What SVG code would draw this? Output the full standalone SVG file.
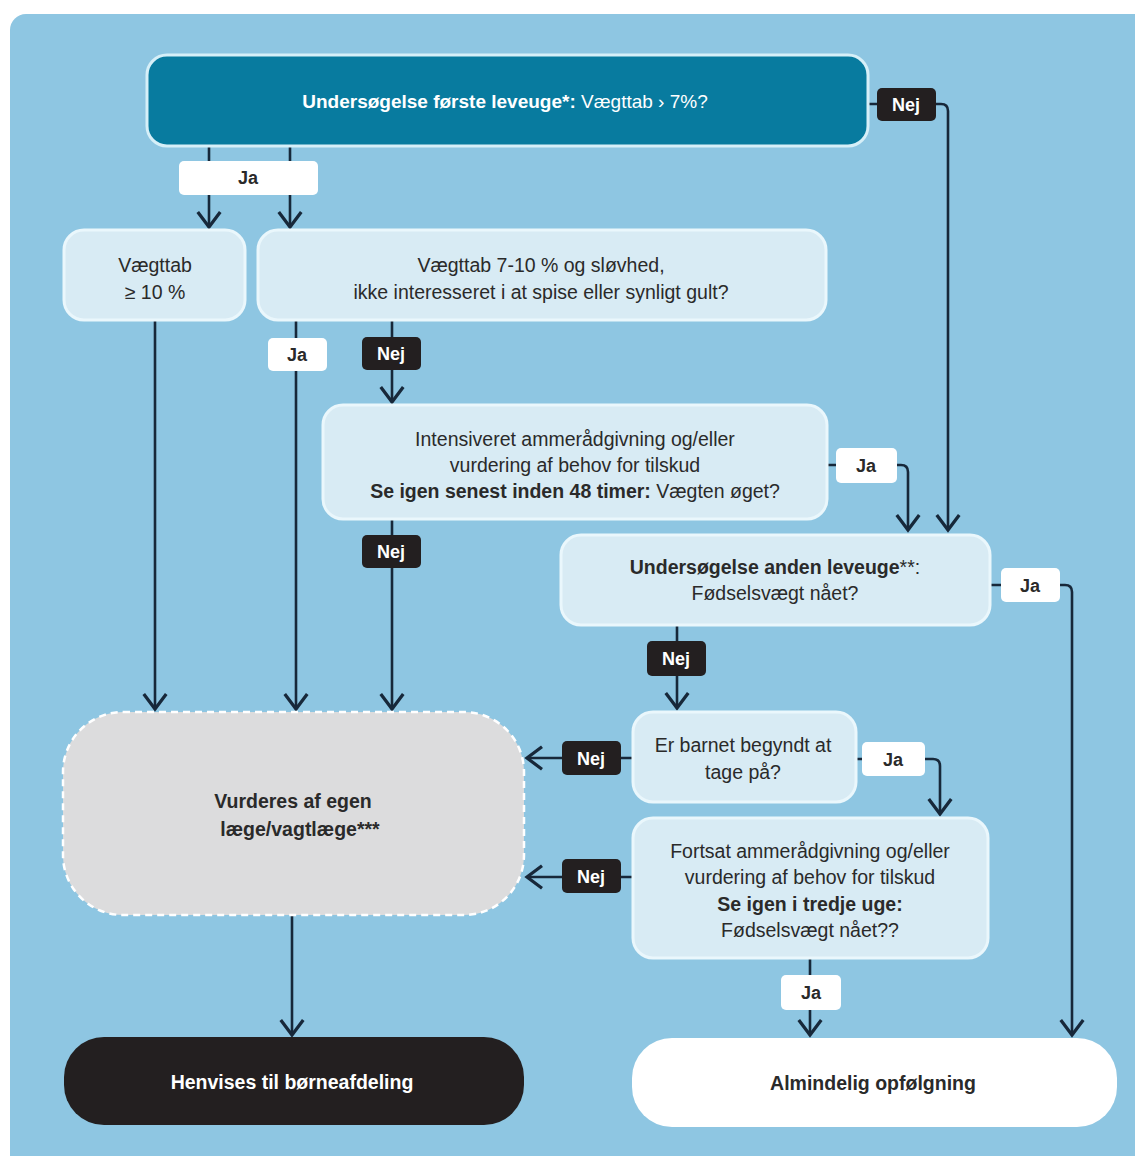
<svg xmlns="http://www.w3.org/2000/svg" width="1135" height="1156" viewBox="0 0 1135 1156">
<style>
text{font-family:"Liberation Sans","Open Sans",sans-serif;font-size:19.5px;fill:#2a2a2a;text-anchor:middle}
.b{font-weight:bold}
.w{fill:#ffffff}
.node{fill:#d8ebf4;stroke:#eaf7fc;stroke-width:3}
.conn{fill:none;stroke:#17283a;stroke-width:2.6}
.lj{fill:#ffffff}
.ln{fill:#231f20}
.lt{font-weight:bold;font-size:18px}
</style>
<defs>
<marker id="ah" markerUnits="userSpaceOnUse" markerWidth="30" markerHeight="30" refX="0" refY="0" viewBox="-14 -12 16 24" orient="auto" overflow="visible">
<path d="M-12,-9 L0,0 L-12,9" fill="none" stroke="#17283a" stroke-width="2.6"/>
</marker>
</defs>
<rect width="1135" height="1156" fill="#ffffff"/>
<rect x="10" y="14" width="1145" height="1160" rx="16" fill="#8ec6e2"/>

<g id="connectors">
<path class="conn" d="M209,146 V227" marker-end="url(#ah)"/>
<path class="conn" d="M290,146 V227" marker-end="url(#ah)"/>
<path class="conn" d="M868,104 H941 Q948,104 948,111 V530" marker-end="url(#ah)"/>
<path class="conn" d="M155,320 V709" marker-end="url(#ah)"/>
<path class="conn" d="M296,320 V709" marker-end="url(#ah)"/>
<path class="conn" d="M392,320 V402" marker-end="url(#ah)"/>
<path class="conn" d="M392,519 V709" marker-end="url(#ah)"/>
<path class="conn" d="M827,465 H901 Q908,465 908,472 V530" marker-end="url(#ah)"/>
<path class="conn" d="M990,585 H1065 Q1072,585 1072,592 V1035" marker-end="url(#ah)"/>
<path class="conn" d="M677,625 V708" marker-end="url(#ah)"/>
<path class="conn" d="M633,758 H527" marker-end="url(#ah)"/>
<path class="conn" d="M856,759 H933 Q940,759 940,766 V814" marker-end="url(#ah)"/>
<path class="conn" d="M633,877 H527" marker-end="url(#ah)"/>
<path class="conn" d="M810,958 V1035" marker-end="url(#ah)"/>
<path class="conn" d="M292,915 V1035" marker-end="url(#ah)"/>
</g>

<g id="labels">
<g id="lbl-top-nej"><rect class="ln" x="877" y="88" width="59" height="33" rx="5"/><text class="lt w" x="906" y="111">Nej</text></g>
<g id="lbl-top-ja"><rect class="lj" x="179" y="161" width="139" height="34" rx="5"/><text class="lt" x="248" y="184">Ja</text></g>
<g id="lbl-b-ja"><rect class="lj" x="268" y="338" width="59" height="33" rx="5"/><text class="lt" x="297" y="361">Ja</text></g>
<g id="lbl-b-nej"><rect class="ln" x="362" y="337" width="59" height="33" rx="5"/><text class="lt w" x="391" y="360">Nej</text></g>
<g id="lbl-c-ja"><rect class="lj" x="836" y="448" width="61" height="35" rx="5"/><text class="lt" x="866" y="472">Ja</text></g>
<g id="lbl-c-nej"><rect class="ln" x="362" y="535" width="59" height="33" rx="5"/><text class="lt w" x="391" y="558">Nej</text></g>
<g id="lbl-d-ja"><rect class="lj" x="1001" y="568" width="59" height="34" rx="5"/><text class="lt" x="1030" y="592">Ja</text></g>
<g id="lbl-d-nej"><rect class="ln" x="647" y="641" width="59" height="35" rx="5"/><text class="lt w" x="676" y="665">Nej</text></g>
<g id="lbl-e-nej"><rect class="ln" x="562" y="741" width="59" height="34" rx="5"/><text class="lt w" x="591" y="765">Nej</text></g>
<g id="lbl-e-ja"><rect class="lj" x="862" y="742" width="63" height="34" rx="5"/><text class="lt" x="893" y="766">Ja</text></g>
<g id="lbl-f-nej"><rect class="ln" x="562" y="859" width="59" height="34" rx="5"/><text class="lt w" x="591" y="883">Nej</text></g>
<g id="lbl-f-ja"><rect class="lj" x="781" y="975" width="60" height="35" rx="5"/><text class="lt" x="811" y="999">Ja</text></g>
</g>

<g id="node-top">
<rect x="147" y="55" width="721" height="91" rx="20" fill="#087b9f" stroke="#d6eff8" stroke-width="3"/>
<text class="w" x="505" y="108" style="font-size:19px"><tspan class="b">Undersøgelse første leveuge*:</tspan> Vægttab › 7%?</text>
</g>

<g id="node-a">
<rect class="node" x="64" y="230" width="181" height="90" rx="20"/>
<text x="155" y="272">Vægttab</text>
<text x="155" y="299">≥ 10 %</text>
</g>

<g id="node-b">
<rect class="node" x="258" y="230" width="568" height="90" rx="20"/>
<text x="541" y="272">Vægttab 7-10 % og sløvhed,</text>
<text x="541" y="299">ikke interesseret i at spise eller synligt gult?</text>
</g>

<g id="node-c">
<rect class="node" x="323" y="405" width="504" height="114" rx="20"/>
<text x="575" y="446">Intensiveret ammerådgivning og/eller</text>
<text x="575" y="472">vurdering af behov for tilskud</text>
<text x="575" y="498"><tspan class="b">Se igen senest inden 48 timer:</tspan> Vægten øget?</text>
</g>

<g id="node-d">
<rect class="node" x="561" y="535" width="429" height="90" rx="20"/>
<text x="775" y="574"><tspan class="b">Undersøgelse anden leveuge</tspan>**:</text>
<text x="775" y="600">Fødselsvægt nået?</text>
</g>

<g id="node-e">
<rect class="node" x="633" y="712" width="223" height="90" rx="20"/>
<text x="743" y="752">Er barnet begyndt at</text>
<text x="743" y="779">tage på?</text>
</g>

<g id="node-f">
<rect class="node" x="633" y="818" width="355" height="140" rx="20"/>
<text x="810" y="858">Fortsat ammerådgivning og/eller</text>
<text x="810" y="884">vurdering af behov for tilskud</text>
<text class="b" x="810" y="911">Se igen i tredje uge:</text>
<text x="810" y="937">Fødselsvægt nået??</text>
</g>

<g id="node-g">
<rect x="63" y="712" width="461" height="203" rx="60" fill="#dcdcdd" stroke="#ffffff" stroke-width="2.5" stroke-dasharray="7 5"/>
<text class="b" x="293" y="808">Vurderes af egen</text>
<text class="b" x="300" y="836">læge/vagtlæge***</text>
</g>

<g id="node-h">
<rect x="64" y="1037" width="460" height="88" rx="40" fill="#231f20"/>
<text class="b w" x="292" y="1089">Henvises til børneafdeling</text>
</g>

<g id="node-i">
<rect x="632" y="1038" width="485" height="89" rx="40" fill="#ffffff"/>
<text class="b" x="873" y="1090">Almindelig opfølgning</text>
</g>
</svg>
